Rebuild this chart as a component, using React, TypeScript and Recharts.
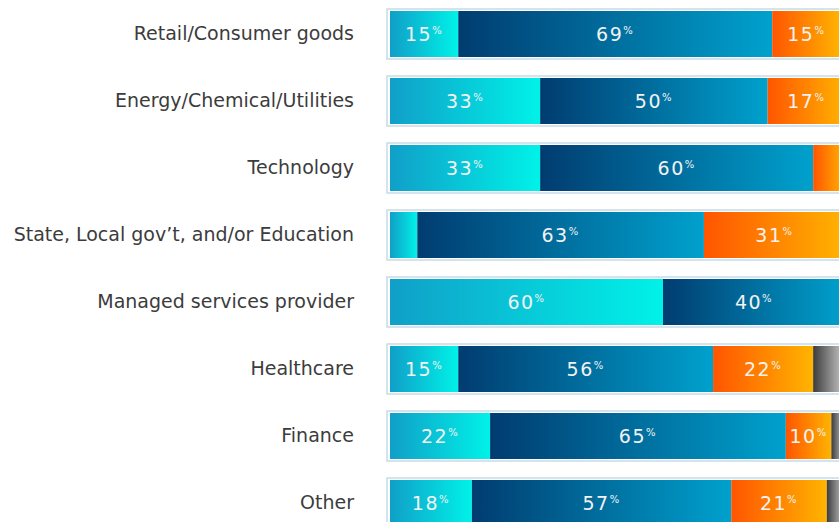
import React from 'react';
import { BarChart, Bar, XAxis, YAxis, LabelList } from 'recharts';

const categories = [
  'Retail/Consumer goods',
  'Energy/Chemical/Utilities',
  'Technology',
  'State, Local gov’t, and/or Education',
  'Managed services provider',
  'Healthcare',
  'Finance',
  'Other',
];
const cyanValues = [15, 33, 33, 6, 60, 15, 22, 18];
const blueValues = [69, 50, 60, 63, 40, 56, 65, 57];
const orangeValues = [15, 17, 7, 31, 0, 22, 10, 21];
const grayValues = [1, 0, 0, 0, 0, 7, 3, 4];

const data = categories.map((name, i) => ({
  name,
  cyan: cyanValues[i],
  blue: blueValues[i],
  orange: orangeValues[i],
  gray: grayValues[i],
}));

const renderValue = (props: any) => {
  const { x, y, width, height, value } = props;
  if (!value || value < 10) return null;
  const cx = Number(x) + Number(width) / 2;
  const cy = Number(y) + Number(height) / 2;
  return (
    <text
      x={cx}
      y={cy + 7}
      textAnchor="middle"
      fill="#f2f2f2"
      fontFamily="DejaVu Sans"
      fontSize={19}
      letterSpacing={1.5}
    >
      {value}
      <tspan fontSize={10} dy={-7}>%</tspan>
    </text>
  );
};

const renderTick = (props: any) => {
  const { x, y, payload } = props;
  return (
    <text
      x={x - 36}
      y={y}
      dy={6}
      textAnchor="end"
      fill="#3c3c3c"
      fontFamily="DejaVu Sans"
      fontSize={19}
    >
      {payload.value}
    </text>
  );
};

const renderFrame = (props: any) => {
  const { x, y, width, height, index } = props;
  return (
    <rect
      key={`frame-${index}`}
      x={x - 3}
      y={y - 2}
      width={width + 6}
      height={height + 4}
      fill="#ffffff"
      stroke="#c6dbe8"
      strokeWidth={1.5}
    />
  );
};

export default function App() {
  return (
    <div style={{ position: 'absolute', left: 0, top: 0, width: 839, height: 522, overflow: 'hidden', background: '#fff' }}>
      <BarChart
        width={860}
        height={536}
        data={data}
        layout="vertical"
        margin={{ top: 0, right: 15, bottom: 0, left: 0 }}
        barSize={46}
      >
        <defs>
          <linearGradient id="gCyan" x1="0" y1="0" x2="1" y2="0">
            <stop offset="0%" stopColor="#109fc8" />
            <stop offset="100%" stopColor="#00f2e8" />
          </linearGradient>
          <linearGradient id="gBlue" x1="0" y1="0" x2="1" y2="0">
            <stop offset="0%" stopColor="#013c70" />
            <stop offset="100%" stopColor="#00a1cd" />
          </linearGradient>
          <linearGradient id="gOrange" x1="0" y1="0" x2="1" y2="0">
            <stop offset="0%" stopColor="#ff5500" />
            <stop offset="100%" stopColor="#ffb400" />
          </linearGradient>
          <linearGradient id="gGray" x1="0" y1="0" x2="1" y2="0">
            <stop offset="0%" stopColor="#3c3c3c" />
            <stop offset="100%" stopColor="#cccccc" />
          </linearGradient>
        </defs>
        <XAxis type="number" domain={[0, 100]} hide />
        <YAxis
          type="category"
          dataKey="name"
          width={390}
          axisLine={false}
          tickLine={false}
          tickSize={0}
          tickMargin={0}
          interval={0}
          tick={renderTick}
        />
        <Bar dataKey="cyan" stackId="s" fill="url(#gCyan)" isAnimationActive={false} background={renderFrame}>
          <LabelList dataKey="cyan" content={renderValue} />
        </Bar>
        <Bar dataKey="blue" stackId="s" fill="url(#gBlue)" isAnimationActive={false}>
          <LabelList dataKey="blue" content={renderValue} />
        </Bar>
        <Bar dataKey="orange" stackId="s" fill="url(#gOrange)" isAnimationActive={false}>
          <LabelList dataKey="orange" content={renderValue} />
        </Bar>
        <Bar dataKey="gray" stackId="s" fill="url(#gGray)" isAnimationActive={false} />
      </BarChart>
    </div>
  );
}
